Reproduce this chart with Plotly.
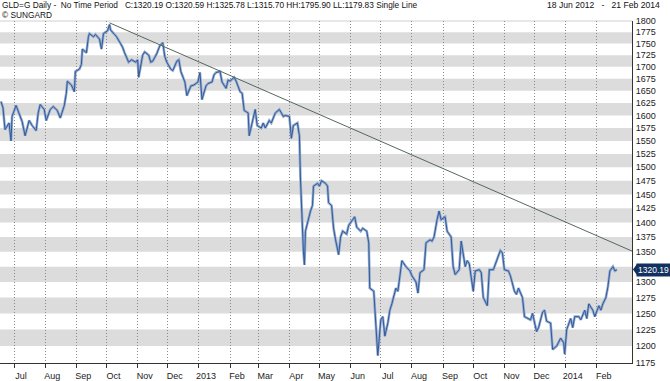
import math
import plotly.graph_objects as go

# ---- data (GLD=G spot gold, USD, log scale) ----
dates = [
    "2012-06-18","2012-06-20","2012-06-22","2012-06-26","2012-06-28","2012-06-29",
    "2012-07-03","2012-07-05","2012-07-09","2012-07-12","2012-07-16","2012-07-19",
    "2012-07-23","2012-07-25","2012-07-27","2012-07-31","2012-08-02","2012-08-06",
    "2012-08-09","2012-08-13","2012-08-16","2012-08-20","2012-08-22","2012-08-23",
    "2012-08-27","2012-08-30","2012-08-31","2012-09-04","2012-09-06","2012-09-07",
    "2012-09-11","2012-09-13","2012-09-14","2012-09-18","2012-09-20","2012-09-24",
    "2012-09-26","2012-09-28","2012-10-02","2012-10-04","2012-10-05","2012-10-09",
    "2012-10-11","2012-10-15","2012-10-17","2012-10-19","2012-10-23","2012-10-26",
    "2012-10-30","2012-11-01","2012-11-02","2012-11-06","2012-11-08","2012-11-12",
    "2012-11-14","2012-11-16","2012-11-20","2012-11-23","2012-11-26","2012-11-28",
    "2012-11-30","2012-12-04","2012-12-06","2012-12-10","2012-12-12","2012-12-14",
    "2012-12-18","2012-12-20","2012-12-24","2012-12-27","2012-12-31",
    "2013-01-02","2013-01-04","2013-01-08","2013-01-10","2013-01-14","2013-01-16",
    "2013-01-18","2013-01-22","2013-01-24","2013-01-28","2013-01-30","2013-02-01",
    "2013-02-05","2013-02-07","2013-02-11","2013-02-13","2013-02-15","2013-02-19",
    "2013-02-20","2013-02-22","2013-02-26","2013-02-28","2013-03-04","2013-03-06",
    "2013-03-08","2013-03-12","2013-03-14","2013-03-18","2013-03-20","2013-03-22",
    "2013-03-26","2013-03-28","2013-04-01","2013-04-03","2013-04-05","2013-04-09",
    "2013-04-11","2013-04-12","2013-04-15","2013-04-16","2013-04-17","2013-04-19",
    "2013-04-22","2013-04-24","2013-04-25","2013-04-29","2013-05-01","2013-05-03",
    "2013-05-07","2013-05-09","2013-05-10","2013-05-13","2013-05-15","2013-05-17",
    "2013-05-20","2013-05-22","2013-05-24","2013-05-28","2013-05-30","2013-06-03",
    "2013-06-05","2013-06-07","2013-06-11","2013-06-13","2013-06-17","2013-06-19",
    "2013-06-20","2013-06-24","2013-06-26","2013-06-27","2013-06-28","2013-07-01",
    "2013-07-03","2013-07-05","2013-07-08","2013-07-10","2013-07-12","2013-07-16",
    "2013-07-18","2013-07-22","2013-07-24","2013-07-26","2013-07-30","2013-08-01",
    "2013-08-05","2013-08-07","2013-08-09","2013-08-13","2013-08-15","2013-08-19",
    "2013-08-21","2013-08-23","2013-08-26","2013-08-28","2013-08-30","2013-09-03",
    "2013-09-05","2013-09-09","2013-09-11","2013-09-13","2013-09-17","2013-09-19",
    "2013-09-23","2013-09-25","2013-09-27","2013-10-01","2013-10-03","2013-10-07",
    "2013-10-09","2013-10-11","2013-10-15","2013-10-17","2013-10-21","2013-10-23",
    "2013-10-28","2013-10-30","2013-11-01","2013-11-05","2013-11-07","2013-11-11",
    "2013-11-13","2013-11-15","2013-11-19","2013-11-21","2013-11-25","2013-11-27",
    "2013-11-29","2013-12-03","2013-12-05","2013-12-09","2013-12-11","2013-12-13",
    "2013-12-17","2013-12-19","2013-12-23","2013-12-27","2013-12-30","2013-12-31",
    "2014-01-02","2014-01-06","2014-01-08","2014-01-10","2014-01-14","2014-01-16",
    "2014-01-20","2014-01-22","2014-01-24","2014-01-28","2014-01-30","2014-02-03",
    "2014-02-05","2014-02-07","2014-02-10","2014-02-12","2014-02-14","2014-02-17",
    "2014-02-19","2014-02-21",
]
closes = [
    1628,1615,1572,1585,1550,1598,
    1620,1610,1588,1560,1590,1580,
    1570,1605,1622,1612,1590,1612,
    1618,1610,1595,1620,1645,1670,
    1662,1648,1690,1695,1705,1738,
    1730,1765,1772,1765,1770,1760,
    1738,1772,1778,1792,1780,1770,
    1765,1750,1742,1730,1710,1715,
    1710,1715,1678,1725,1732,1725,
    1710,1712,1728,1745,1752,1722,
    1710,1695,1692,1712,1715,1690,
    1668,1640,1660,1662,1668,
    1688,1632,1660,1665,1668,1683,
    1688,1690,1668,1655,1672,1670,
    1678,1670,1648,1645,1610,1605,
    1560,1578,1612,1580,1575,1585,
    1575,1590,1585,1605,1608,1612,
    1598,1600,1598,1555,1580,1585,
    1560,1480,1350,1328,1385,1400,
    1420,1430,1465,1470,1465,1475,
    1470,1465,1435,1430,1390,1370,
    1345,1375,1385,1380,1395,1405,
    1410,1392,1385,1390,1385,1365,
    1290,1285,1230,1210,1186,1240,
    1245,1215,1235,1255,1265,1290,
    1285,1335,1330,1325,1318,1310,
    1300,1282,1315,1320,1365,1370,
    1368,1375,1405,1420,1405,1410,
    1385,1375,1325,1312,1320,1368,
    1325,1335,1330,1285,1318,1320,
    1315,1275,1262,1320,1320,1330,
    1352,1348,1320,1318,1310,1285,
    1280,1290,1275,1245,1242,1240,
    1250,1222,1228,1252,1255,1238,
    1235,1195,1200,1212,1205,1188,
    1225,1242,1228,1245,1245,1240,
    1255,1242,1265,1255,1245,1262,
    1255,1265,1275,1292,1318,1325,
    1318,1320,
]

# trend line through the Oct-2012 peak
trend_dates = ["2012-10-04", "2014-03-08"]
trend_values = [1795.9, 1351.0]

y_ticks = [1175, 1200, 1225, 1250, 1275, 1300, 1350, 1375, 1400, 1425, 1450,
           1475, 1500, 1525, 1550, 1575, 1600, 1625, 1650, 1675, 1700, 1725,
           1750, 1775, 1800]
band_starts = [1200, 1250, 1300, 1350, 1400, 1450, 1500, 1550, 1600, 1650, 1700, 1750]

month_ticks = ["2012-07-01","2012-08-01","2012-09-01","2012-10-01","2012-11-01",
               "2012-12-01","2013-01-01","2013-02-01","2013-03-01","2013-04-01",
               "2013-05-01","2013-06-01","2013-07-01","2013-08-01","2013-09-01",
               "2013-10-01","2013-11-01","2013-12-01","2014-01-01","2014-02-01"]
month_labels = ["Jul","Aug","Sep","Oct","Nov","Dec","2013","Feb","Mar","Apr","May",
                "Jun","Jul","Aug","Sep","Oct","Nov","Dec","2014","Feb"]

last_price = 1320.19

FONT = "Liberation Sans"
NB = "\u00a0"
Y_MIN, Y_MAX = 1175, 1800
W, H = 670, 381
M_L, M_R, M_T, M_B = 0, 38, 21, 16
PLOT_W = W - M_L - M_R
PLOT_H = H - M_T - M_B


def yfrac(v):
    return (math.log10(v) - math.log10(Y_MIN)) / (math.log10(Y_MAX) - math.log10(Y_MIN))


fig = go.Figure()
fig.add_trace(go.Scatter(x=dates, y=closes, mode="lines",
                         line=dict(color="rgba(140,168,205,0.95)", width=2.6),
                         hoverinfo="skip", showlegend=False))
fig.add_trace(go.Scatter(x=dates, y=closes, mode="lines",
                         line=dict(color="#34599a", width=1),
                         showlegend=False))
fig.add_trace(go.Scatter(x=trend_dates, y=trend_values, mode="lines",
                         line=dict(color="#55675e", width=1),
                         showlegend=False))

shapes = []
for b in band_starts:
    shapes.append(dict(type="rect", xref="paper", yref="paper", x0=0, x1=1,
                       y0=yfrac(b), y1=yfrac(b + 25),
                       fillcolor="#dcdcdc", line=dict(width=0), layer="below"))
# light top border line
shapes.append(dict(type="line", xref="paper", yref="paper", x0=0, x1=1, y0=1, y1=1,
                   line=dict(color="#d0d0d0", width=1), layer="below"))
# pointer of the last-price tag
yl = yfrac(last_price)
dx = 5.0 / PLOT_W
dy = 5.5 / PLOT_H
shapes.append(dict(type="path", xref="paper", yref="paper",
                   path=f"M 1.0015 {yl} L {1 + dx} {yl + dy} L {1 + dx} {yl - dy} Z",
                   fillcolor="#13315f", line=dict(width=0), layer="above"))

header = ("GLD=G Daily -" + NB * 2 + "No Time Period" + NB * 3 +
          "C:1320.19 O:1320.59 H:1325.78 L:1315.70 HH:1795.90 LL:1179.83 Single Line")
date_span = "18 Jun 2012" + NB * 3 + "-" + NB * 3 + "21 Feb 2014"

annotations = [
    dict(xref="paper", yref="paper", x=0, y=1, xanchor="left", yanchor="middle",
         yshift=16, showarrow=False, align="left", text=header,
         font=dict(family=FONT, size=8.3, color="#111")),
    dict(xref="paper", yref="paper", x=0, y=1, xanchor="left", yanchor="middle",
         yshift=6, showarrow=False, text="© SUNGARD",
         font=dict(family=FONT, size=8.3, color="#111")),
    dict(xref="paper", yref="paper", x=1, y=1, xanchor="right", yanchor="middle",
         xshift=30, yshift=16, showarrow=False, text=date_span,
         font=dict(family=FONT, size=8.6, color="#111")),
    dict(xref="paper", yref="paper", x=1, y=yl, xanchor="left", yanchor="middle",
         xshift=4, showarrow=False, text=f"{last_price:.2f}",
         bgcolor="#13315f", borderpad=1,
         font=dict(family=FONT, size=8.5, color="white")),
]

fig.update_layout(
    width=W, height=H,
    margin=dict(l=M_L, r=M_R, t=M_T, b=M_B),
    paper_bgcolor="white", plot_bgcolor="white",
    shapes=shapes, annotations=annotations,
    showlegend=False,
    xaxis=dict(type="date", range=["2012-06-17", "2014-03-08"],
               tickvals=month_ticks, ticktext=month_labels,
               ticks="outside", ticklen=4, tickcolor="#333",
               showline=True, linecolor="#333", linewidth=1,
               showgrid=True, gridcolor="#8a8a8a", griddash="1px,2px", gridwidth=1,
               tickfont=dict(family=FONT, size=9, color="#222"),
               ticklabelshift=7, zeroline=False),
    yaxis=dict(type="log", side="right",
               range=[math.log10(Y_MIN), math.log10(Y_MAX)],
               tickvals=y_ticks, ticktext=[str(v) for v in y_ticks],
               ticks="", showline=True, linecolor="#333", linewidth=1,
               showgrid=False, zeroline=False, ticklabelstandoff=1,
               tickfont=dict(family=FONT, size=9, color="#222")),
)

fig.write_html("out.html", config={"displayModeBar": False},
               post_script="document.body.style.margin='0';")
